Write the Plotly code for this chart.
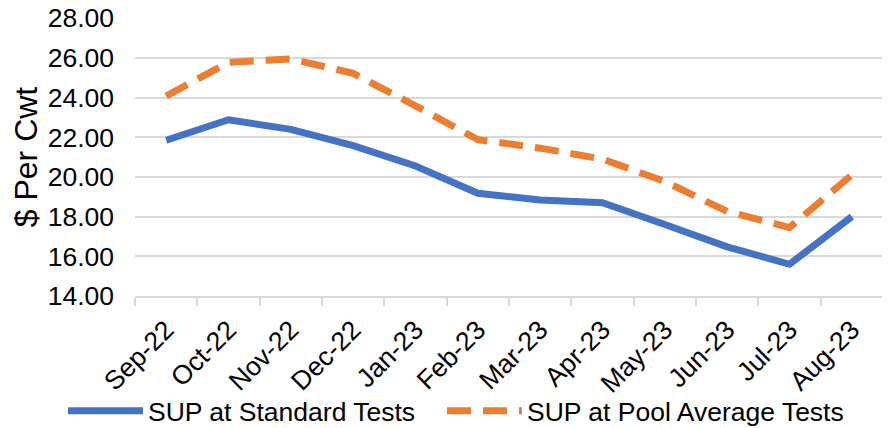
import plotly.graph_objects as go

months = ['Sep-22', 'Oct-22', 'Nov-22', 'Dec-22', 'Jan-23', 'Feb-23',
          'Mar-23', 'Apr-23', 'May-23', 'Jun-23', 'Jul-23', 'Aug-23']
sup_standard = [21.85, 22.88, 22.40, 21.58, 20.55, 19.18,
                18.84, 18.70, 17.60, 16.48, 15.60, 18.00]
sup_pool = [24.08, 25.77, 25.95, 25.22, 23.58, 21.88,
            21.45, 20.90, 19.77, 18.26, 17.45, 20.10]

FONT = 'Liberation Sans, Arial, sans-serif'
GRID = '#d9d9d9'

# page body has an 8px margin, so the figure is 8px smaller each way
W, H = 882, 420
L, R, T, B = 127, 7, 10, 132
PW, PH = W - L - R, H - T - B

fig = go.Figure()
fig.add_trace(
    go.Scatter(
        x=months,
        y=sup_standard,
        name='SUP at Standard Tests',
        mode='lines',
        line=dict(color='#4472c4', width=7),
        legend='legend'
    )
)
fig.add_trace(
    go.Scatter(
        x=months,
        y=sup_pool,
        name='SUP at Pool Average Tests',
        mode='lines',
        line=dict(color='#ed7d31', width=7, dash='24px,12px'),
        legend='legend2'
    )
)

# legends in paper coords, below the plot area
legend_style = dict(
    orientation='h',
    xref='paper', yref='paper',
    xanchor='left',
    y=-(403 - (H - B)) / PH, yanchor='middle',
    itemwidth=75,
    bgcolor='rgba(0,0,0,0)',
    font=dict(size=26.5)
)

fig.update_layout(
    width=W,
    height=H,
    margin=dict(l=L, r=R, t=T, b=B, autoexpand=False),
    plot_bgcolor='white',
    paper_bgcolor='white',
    font=dict(family=FONT, size=26.5, color='black'),
    showlegend=True,
    legend=dict(legend_style, x=(55 - L) / PW),
    legend2=dict(legend_style, x=(434 - L) / PW),
    xaxis=dict(
        type='category',
        range=[-0.5, 11.5],
        automargin=False,
        tickangle=-45,
        tickson='boundaries',
        ticks='outside',
        ticklen=8,
        tickcolor=GRID,
        tickwidth=1.5,
        showline=True,
        linecolor=GRID,
        linewidth=1.5,
        showgrid=False,
        ticklabelstandoff=6
    ),
    yaxis=dict(
        title=dict(text='$ Per Cwt', standoff=8),
        range=[14, 28.01],
        tickvals=[14, 16, 18, 20, 22, 24, 26, 28],
        automargin=False,
        ticklabeloverflow='allow',
        tickformat='.2f',
        gridcolor=GRID,
        gridwidth=1.5,
        zeroline=False,
        showline=False,
        ticklabelstandoff=20
    )
)

fig.write_html('out.html')
